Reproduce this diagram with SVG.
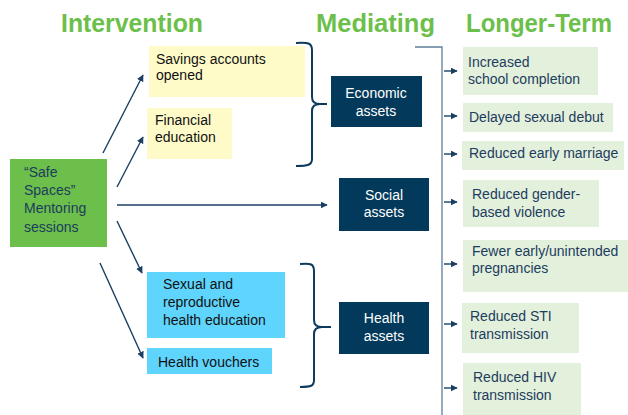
<svg xmlns="http://www.w3.org/2000/svg" width="628" height="415" viewBox="0 0 628 415">
  <defs>
    <style>
      .hdr { font-family: "Liberation Sans", Arial, sans-serif; font-weight: bold; font-size: 25px; fill: #6cbf4a; }
      .t { font-family: "Liberation Sans", Arial, sans-serif; font-size: 14px; }
      .dark { fill: #111111; }
      .navy { fill: #1d3c5e; }
      .white { fill: #ffffff; text-anchor: middle; }
      .yellow { fill: #fefbc9; }
      .blue { fill: #5fd4fc; }
      .green { fill: #6cbf4a; }
      .asset { fill: #033a5b; }
      .outcome { fill: #e3f0dc; }
      .arrow { stroke: #1a3f63; stroke-width: 1.4; fill: none; marker-end: url(#head); }
      .brace { stroke: #0e3a5c; stroke-width: 2; fill: none; }
      .spine { stroke: #5f7e9b; stroke-width: 1.3; fill: none; }
    </style>
    <marker id="head" viewBox="0 0 10 10" refX="9" refY="5" markerWidth="5" markerHeight="5" orient="auto" markerUnits="strokeWidth">
      <path d="M0,0 L10,5 L0,10 z" fill="#1a3f63"/>
    </marker>
  </defs>

  <rect width="628" height="415" fill="#ffffff"/>

  <!-- column headings -->
  <text class="hdr" x="61" y="32" textLength="142" lengthAdjust="spacingAndGlyphs">Intervention</text>
  <text class="hdr" x="316" y="32" textLength="119" lengthAdjust="spacingAndGlyphs">Mediating</text>
  <text class="hdr" x="466" y="32" textLength="146" lengthAdjust="spacingAndGlyphs">Longer-Term</text>

  <!-- connectors -->
  <g id="connectors">
    <line class="arrow" x1="103" y1="153" x2="143" y2="75"/>
    <line class="arrow" x1="117" y1="187" x2="143" y2="137"/>
    <line class="arrow" x1="117" y1="205" x2="327" y2="205"/>
    <line class="arrow" x1="117" y1="221" x2="142" y2="273"/>
    <line class="arrow" x1="100" y1="263" x2="143" y2="358"/>

    <path class="brace" d="M296,43 C308,42 312,43 312,50 L312,97 C312,102 315,104 320,104 L327,104 M320,104 C315,104 312,106 312,111 L312,159 C312,165 308,166 296,166"/>
    <path class="brace" d="M300,264 C311,263 314,264 314,271 L314,320 C314,325 317,327 322,327 L331,327 M322,327 C317,327 314,329 314,334 L314,380 C314,386 311,387 300,387"/>

    <path class="spine" d="M415,47 L442,47 L442,415"/>
    <line class="arrow" x1="444" y1="71" x2="457" y2="71"/>
    <line class="arrow" x1="444" y1="116" x2="457" y2="116"/>
    <line class="arrow" x1="444" y1="154" x2="457" y2="154"/>
    <line class="arrow" x1="444" y1="202" x2="457" y2="202"/>
    <line class="arrow" x1="444" y1="264" x2="457" y2="264"/>
    <line class="arrow" x1="444" y1="324" x2="457" y2="324"/>
    <line class="arrow" x1="444" y1="388" x2="457" y2="388"/>
  </g>

  <!-- intervention -->
  <g id="safe-spaces">
    <rect class="green" x="10" y="159" width="97" height="88"/>
    <text class="t navy" x="24" y="177" font-size="14.5">“Safe</text>
    <text class="t navy" x="24" y="195" font-size="14.5">Spaces”</text>
    <text class="t navy" x="24" y="213" font-size="14.5">Mentoring</text>
    <text class="t navy" x="24" y="232" font-size="14.5">sessions</text>
  </g>
  <g id="savings">
    <rect class="yellow" x="149" y="46" width="156" height="51"/>
    <text class="t dark" x="156" y="64">Savings accounts</text>
    <text class="t dark" x="156" y="80">opened</text>
  </g>
  <g id="financial">
    <rect class="yellow" x="147" y="108" width="85" height="51"/>
    <text class="t dark" x="155" y="125">Financial</text>
    <text class="t dark" x="155" y="142">education</text>
  </g>
  <g id="srh-education">
    <rect class="blue" x="147" y="272" width="138" height="66"/>
    <text class="t dark" x="163" y="289">Sexual and</text>
    <text class="t dark" x="163" y="307">reproductive</text>
    <text class="t dark" x="163" y="325">health education</text>
  </g>
  <g id="vouchers">
    <rect class="blue" x="147" y="348" width="125" height="26"/>
    <text class="t dark" x="158" y="367">Health vouchers</text>
  </g>

  <!-- mediating assets -->
  <g id="economic">
    <rect class="asset" x="331" y="76" width="91" height="51"/>
    <text class="t white" x="376" y="98">Economic</text>
    <text class="t white" x="376" y="116">assets</text>
  </g>
  <g id="social">
    <rect class="asset" x="339" y="178" width="90" height="53"/>
    <text class="t white" x="384" y="200">Social</text>
    <text class="t white" x="384" y="217">assets</text>
  </g>
  <g id="health">
    <rect class="asset" x="339" y="302" width="90" height="52"/>
    <text class="t white" x="384" y="323">Health</text>
    <text class="t white" x="384" y="341">assets</text>
  </g>

  <!-- longer-term outcomes -->
  <g id="school">
    <rect class="outcome" x="463" y="47" width="135" height="48"/>
    <text class="t navy" x="468" y="67">Increased</text>
    <text class="t navy" x="468" y="84">school completion</text>
  </g>
  <g id="debut">
    <rect class="outcome" x="463" y="103" width="150" height="29"/>
    <text class="t navy" x="469" y="122">Delayed sexual debut</text>
  </g>
  <g id="marriage">
    <rect class="outcome" x="462" y="141" width="162" height="29"/>
    <text class="t navy" x="469" y="158">Reduced early marriage</text>
  </g>
  <g id="gbv">
    <rect class="outcome" x="463" y="180" width="136" height="47"/>
    <text class="t navy" x="472" y="199">Reduced gender-</text>
    <text class="t navy" x="472" y="217">based violence</text>
  </g>
  <g id="pregnancies">
    <rect class="outcome" x="463" y="240" width="165" height="52"/>
    <text class="t navy" x="472" y="256">Fewer early/unintended</text>
    <text class="t navy" x="472" y="273">pregnancies</text>
  </g>
  <g id="sti">
    <rect class="outcome" x="462" y="303" width="117" height="50"/>
    <text class="t navy" x="470" y="321">Reduced STI</text>
    <text class="t navy" x="470" y="339">transmission</text>
  </g>
  <g id="hiv">
    <rect class="outcome" x="463" y="363" width="118" height="52"/>
    <text class="t navy" x="473" y="382">Reduced HIV</text>
    <text class="t navy" x="473" y="400">transmission</text>
  </g>
</svg>
